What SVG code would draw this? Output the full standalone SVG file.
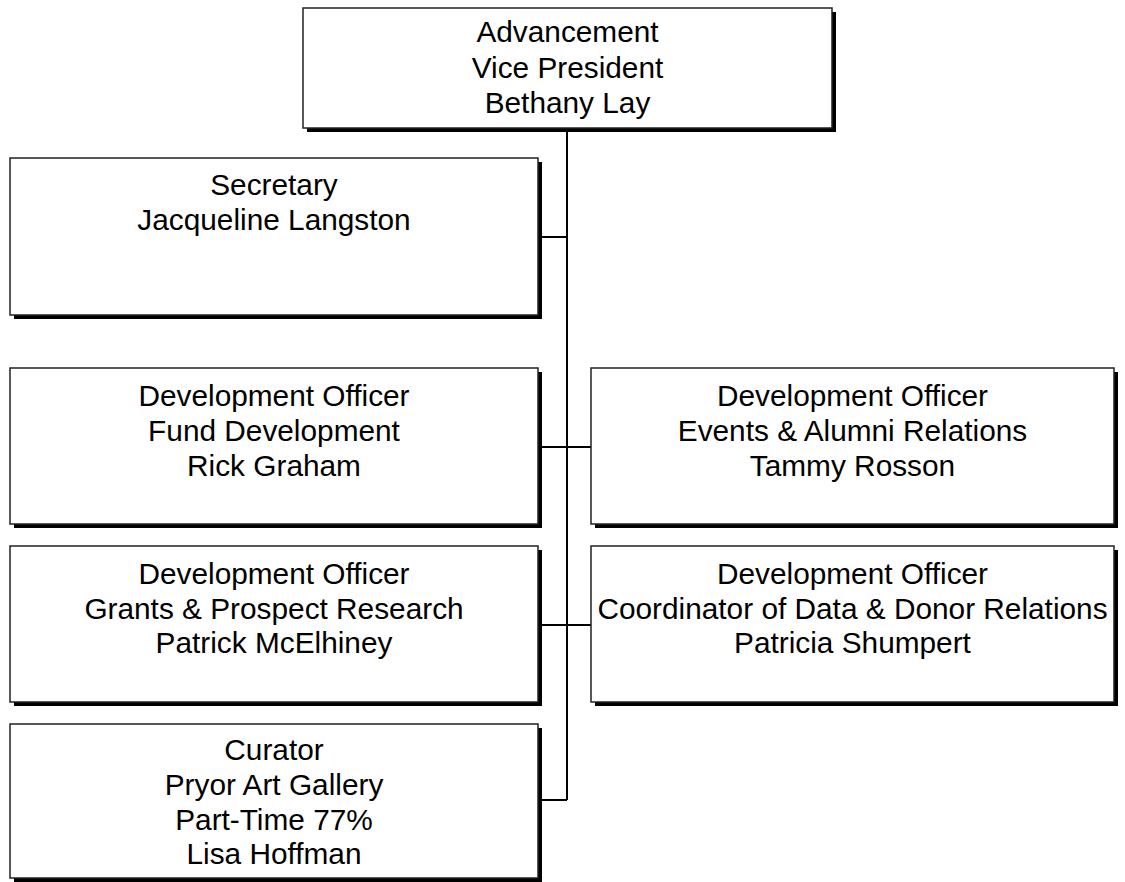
<svg xmlns="http://www.w3.org/2000/svg" width="1125" height="882" viewBox="0 0 1125 882">
<style>
.sh{fill:#000}
.bx{fill:#fff;stroke:#222;stroke-width:1.5}
.t{font-family:"Liberation Sans",Arial,sans-serif;font-size:29.8px;fill:#000;text-anchor:middle}
.c{stroke:#000;stroke-width:2;fill:none}
</style>
<rect width="1125" height="882" fill="#fff"/>
<g id="connectors">
<path class="c" d="M567,128V800"/>
<path class="c" d="M538,237H567"/>
<path class="c" d="M538,447H591"/>
<path class="c" d="M538,625H591"/>
<path class="c" d="M538,800H567"/>
</g>
<g id="vp">
<rect class="sh" x="307" y="12" width="529" height="120"/>
<rect class="bx" x="303" y="8" width="529" height="120"/>
<text class="t" x="567.5" y="42">Advancement</text>
<text class="t" x="567.5" y="78">Vice President</text>
<text class="t" x="567.5" y="113">Bethany Lay</text>
</g>
<g id="secretary">
<rect class="sh" x="14" y="162" width="528" height="157"/>
<rect class="bx" x="10" y="158" width="528" height="157"/>
<text class="t" x="274" y="195">Secretary</text>
<text class="t" x="274" y="230">Jacqueline Langston</text>
</g>
<g id="fund">
<rect class="sh" x="14" y="372" width="528" height="156"/>
<rect class="bx" x="10" y="368" width="528" height="156"/>
<text class="t" x="274" y="406">Development Officer</text>
<text class="t" x="274" y="441">Fund Development</text>
<text class="t" x="274" y="476">Rick Graham</text>
</g>
<g id="events">
<rect class="sh" x="595" y="372" width="523" height="156"/>
<rect class="bx" x="591" y="368" width="523" height="156"/>
<text class="t" x="852.5" y="406">Development Officer</text>
<text class="t" x="852.5" y="441">Events &amp; Alumni Relations</text>
<text class="t" x="852.5" y="476">Tammy Rosson</text>
</g>
<g id="grants">
<rect class="sh" x="14" y="550" width="528" height="156"/>
<rect class="bx" x="10" y="546" width="528" height="156"/>
<text class="t" x="274" y="584">Development Officer</text>
<text class="t" x="274" y="619">Grants &amp; Prospect Research</text>
<text class="t" x="274" y="653">Patrick McElhiney</text>
</g>
<g id="coordinator">
<rect class="sh" x="595" y="550" width="523" height="156"/>
<rect class="bx" x="591" y="546" width="523" height="156"/>
<text class="t" x="852.5" y="584">Development Officer</text>
<text class="t" x="852.5" y="619">Coordinator of Data &amp; Donor Relations</text>
<text class="t" x="852.5" y="653">Patricia Shumpert</text>
</g>
<g id="curator">
<rect class="sh" x="14" y="728" width="528" height="154"/>
<rect class="bx" x="10" y="724" width="528" height="154"/>
<text class="t" x="274" y="760">Curator</text>
<text class="t" x="274" y="795">Pryor Art Gallery</text>
<text class="t" x="274" y="830">Part-Time 77%</text>
<text class="t" x="274" y="864">Lisa Hoffman</text>
</g>
</svg>
